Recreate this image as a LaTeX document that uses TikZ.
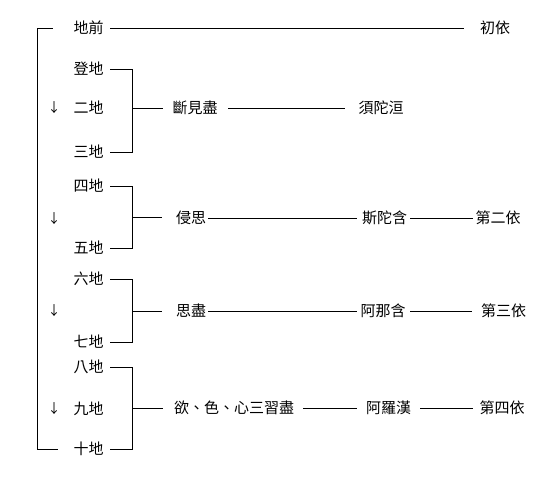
\documentclass[tikz,border=0pt]{standalone}
\usepackage{fontspec}
\setmainfont{Noto Sans CJK TC}
\begin{document}
\begin{tikzpicture}[x=1pt,y=-1pt,
  lbl/.style={inner xsep=0pt, inner ysep=2pt, font=\fontsize{15}{15}\selectfont},
  arr/.style={inner sep=0pt, font=\fontsize{13}{13}\selectfont},
  ln/.style={line width=0.7pt}]
\useasboundingbox (0,0) rectangle (553,476);
\fill[white] (0,0) rectangle (553,476);
% left column
\node[lbl] (dq) at (88.5,28) {地前};
\node[lbl] (d1) at (88.5,69) {登地};
\node[lbl] (d2) at (88.5,108) {二地};
\node[lbl] (d3) at (88.5,152) {三地};
\node[lbl] (d4) at (88.5,186) {四地};
\node[lbl] (d5) at (88.5,248) {五地};
\node[lbl] (d6) at (88.5,279) {六地};
\node[lbl] (d7) at (88.5,342) {七地};
\node[lbl] (d8) at (88.5,367) {八地};
\node[lbl] (d9) at (88.5,409) {九地};
\node[lbl] (d10) at (88.5,449) {十地};
% arrows
\node[arr] (a1) at (54,108) {↓};
\node[arr] (a2) at (54,219) {↓};
\node[arr] (a3) at (54,311) {↓};
\node[arr] (a4) at (54,409) {↓};
% middle
\node[lbl] (m1) at (195,108) {斷見盡};
\node[lbl] (m2) at (191,218) {侵思};
\node[lbl] (m3) at (191,311) {思盡};
\node[lbl] (m4) at (234,408) {欲、色、心三習盡};
% fruits
\node[lbl] (f1) at (381,108) {須陀洹};
\node[lbl] (f2) at (384.5,218) {斯陀含};
\node[lbl] (f3) at (383,311) {阿那含};
\node[lbl] (f4) at (388.5,408) {阿羅漢};
% reliances
\node[lbl] (r0) at (495,28) {初依};
\node[lbl] (r2) at (498,218) {第二依};
\node[lbl] (r3) at (503.5,311) {第三依};
\node[lbl] (r4) at (502,408) {第四依};
% junctions
\coordinate (fl) at (37,28);
\coordinate (j1) at (132,108);
\coordinate (j2) at (132,217);
\coordinate (j3) at (132,311);
\coordinate (j4) at (132,408);
% frame
\draw[ln, shorten <=20.5pt, shorten >=15.5pt] (dq.west) -- (fl) |- (d10.west);
\draw[ln, shorten <=6.5pt, shorten >=16pt] (dq.east) -- (r0.west);
% group 1
\draw[ln, shorten <=6.5pt] (d1.east) -| (j1);
\draw[ln, shorten >=6.5pt] (j1) |- (d3.east);
\draw[ln, shorten >=9pt] (j1) -- (m1.west);
\draw[ln, shorten <=10.5pt, shorten >=13.5pt] (m1.east) -- (f1.west);
% group 2
\draw[ln, shorten <=6.5pt] (d4.east) -| (j2);
\draw[ln, shorten >=6.5pt] (j2) |- (d5.east);
\draw[ln, shorten >=14pt] (j2) -- (m2.west |- j2);
\draw[ln, shorten <=2pt, shorten >=5pt] (m2.east) -- (f2.west);
\draw[ln, shorten <=3pt, shorten >=2.5pt] (f2.east) -- (r2.west);
% group 3
\draw[ln, shorten <=6.5pt] (d6.east) -| (j3);
\draw[ln, shorten >=6.5pt] (j3) |- (d7.east);
\draw[ln, shorten >=14pt] (j3) -- (m3.west);
\draw[ln, shorten <=2pt, shorten >=3.5pt] (m3.east) -- (f3.west);
\draw[ln, shorten <=4.5pt, shorten >=9pt] (f3.east) -- (r3.west);
% group 4
\draw[ln, shorten <=6.5pt] (d8.east) -| (j4);
\draw[ln, shorten >=6.5pt] (j4) |- (d10.east);
\draw[ln, shorten >=11pt] (j4) -- (m4.west);
\draw[ln, shorten <=9pt, shorten >=9pt] (m4.east) -- (f4.west);
\draw[ln, shorten <=9pt, shorten >=6.5pt] (f4.east) -- (r4.west);
\end{tikzpicture}
\end{document}
